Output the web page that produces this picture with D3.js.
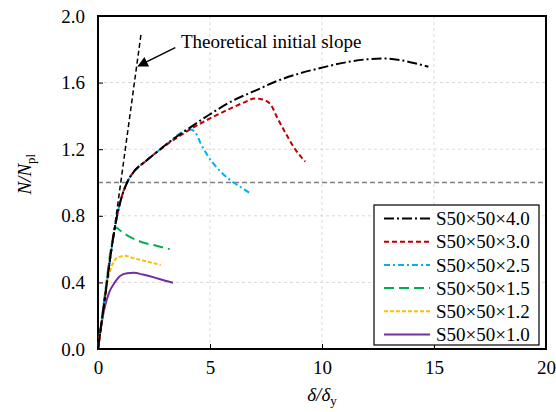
<!DOCTYPE html>
<meta charset='utf-8'>
<style>
    body { margin: 0; background: #fff; }
    svg text { font-family: "Liberation Serif", "Times New Roman", Times, "DejaVu Serif", serif; fill: #000; }
    .grid line { stroke: #d9d9d9; stroke-dasharray: 3,3; stroke-width: 1; }
    .axis path, .axis line { stroke: #000; }
</style>

<svg width="556" height="412"></svg>
<script src="https://d3js.org/d3.v7.min.js"></script>

<script>

// series labels and values (delta/delta_y, N/N_pl)
var seriesNames = ['S50×50×4.0', 'S50×50×3.0', 'S50×50×2.5', 'S50×50×1.5', 'S50×50×1.2', 'S50×50×1.0'];

var s40 = [[0,0],[0.3,0.3],[0.6,0.6],[0.85,0.8],[1.05,0.91],[1.3,1.0],[1.6,1.065],[2.1,1.125],[2.6,1.18],[3.2,1.245],
           [4,1.32],[5,1.41],[6,1.49],[7,1.55],[8,1.61],[9,1.655],[10,1.69],[11,1.72],[12,1.74],[12.8,1.745],
           [13.5,1.735],[14.2,1.715],[14.75,1.695]];
var s30 = [[0,0],[0.3,0.3],[0.6,0.6],[0.85,0.8],[1.05,0.91],[1.3,1.0],[1.6,1.065],[2.1,1.125],[2.6,1.18],[3.2,1.24],
           [4,1.31],[5,1.385],[6,1.45],[6.5,1.48],[7,1.505],[7.3,1.5],[7.7,1.47],[8,1.39],[8.4,1.29],[8.8,1.2],[9.25,1.125]];
var s25 = [[0,0],[0.3,0.3],[0.6,0.6],[0.85,0.8],[1.05,0.91],[1.3,1.0],[1.6,1.065],[2.1,1.125],[2.6,1.18],[3.2,1.245],
           [3.6,1.29],[4.1,1.32],[4.35,1.3],[4.6,1.23],[4.9,1.16],[5.3,1.09],[5.9,1.015],[6.4,0.97],[6.8,0.935]];
var s15 = [[0,0],[0.3,0.32],[0.6,0.62],[0.8,0.73],[1.0,0.71],[1.4,0.675],[2.0,0.64],[2.6,0.62],[3.2,0.6]];
var s12 = [[0,0],[0.2,0.2],[0.45,0.42],[0.65,0.51],[0.9,0.55],[1.2,0.56],[1.6,0.545],[2.2,0.525],[2.8,0.505]];
var s10 = [[0,0],[0.1,0.1],[0.3,0.25],[0.5,0.34],[0.75,0.4],[1.0,0.44],[1.3,0.455],[1.6,0.458],[2.0,0.447],
           [2.5,0.43],[3.0,0.41],[3.35,0.398]];

var slopeLine = [[0,0],[1.93,1.9]];
var refLevel = 1.0;

var xTicks = [0, 5, 10, 15, 20];
var yTicks = [0, 0.4, 0.8, 1.2, 1.6, 2.0];

var serif = '"Liberation Serif", "Times New Roman", Times, "DejaVu Serif", serif';

var svg = d3.select('svg'),
    margin = {top: 16, right: 10, bottom: 63, left: 98},
    width = +svg.attr('width') - margin.left - margin.right,
    height = +svg.attr('height') - margin.top - margin.bottom;

var g = svg.append('g').attr('transform', 'translate(' + margin.left + ',' + margin.top + ')');

var x = d3.scaleLinear().domain([0, 20]).range([0, width]);
var y = d3.scaleLinear().domain([0, 2]).range([height, 0]);

// grid
g.append('g').attr('class', 'grid')
  .selectAll('line').data(xTicks.slice(1, -1)).enter().append('line')
    .attr('x1', d => x(d)).attr('x2', d => x(d)).attr('y1', 0).attr('y2', height);
g.append('g').attr('class', 'grid')
  .selectAll('line').data(yTicks.slice(1, -1)).enter().append('line')
    .attr('x1', 0).attr('x2', width).attr('y1', d => y(d)).attr('y2', d => y(d));

// N/Npl = 1 reference line
g.append('line')
    .attr('x1', 0).attr('x2', width).attr('y1', y(refLevel)).attr('y2', y(refLevel))
    .attr('stroke', '#808080').attr('stroke-width', 1.5).attr('stroke-dasharray', '5,3');

// axes
var xAxis = g.append('g').attr('class', 'axis').attr('transform', 'translate(0,' + height + ')')
    .call(d3.axisBottom(x).tickValues(xTicks).tickSize(-5).tickPadding(12).tickFormat(d3.format('d')));
var yAxis = g.append('g').attr('class', 'axis')
    .call(d3.axisLeft(y).tickValues(yTicks).tickSize(-5).tickPadding(13).tickFormat(d3.format('.1f')));
[xAxis, yAxis].forEach(function(a) {
    a.select('.domain').remove();
    a.attr('font-family', serif).attr('font-size', 19);
});

// frame
g.append('rect').attr('width', width).attr('height', height)
    .attr('fill', 'none').attr('stroke', '#000').attr('stroke-width', 2);

var line = d3.line().x(d => x(d[0])).y(d => y(d[1])).curve(d3.curveMonotoneX);

var series = [
    {name: seriesNames[0], data: s40, color: '#000000', dash: '10,3,2,3'},
    {name: seriesNames[1], data: s30, color: '#C00000', dash: '5,3'},
    {name: seriesNames[2], data: s25, color: '#00B0F0', dash: '6,3,2,3'},
    {name: seriesNames[3], data: s15, color: '#00B050', dash: '10,5'},
    {name: seriesNames[4], data: s12, color: '#FFC000', dash: '4,2'},
    {name: seriesNames[5], data: s10, color: '#7030A0', dash: null}
];

// draw bottom-most first so the thick curves overlap like the original
series.slice().reverse().forEach(function(s) {
    g.append('path').datum(s.data)
        .attr('fill', 'none').attr('stroke', s.color).attr('stroke-width', 2)
        .attr('stroke-dasharray', s.dash)
        .attr('d', line);
});

// theoretical initial slope
g.append('path').datum(slopeLine)
    .attr('fill', 'none').attr('stroke', '#000').attr('stroke-width', 1.5)
    .attr('stroke-dasharray', '5,3')
    .attr('d', d3.line().x(d => x(d[0])).y(d => y(d[1])));

// annotation arrow
svg.append('defs').append('marker')
    .attr('id', 'arr').attr('viewBox', '0 0 10 10').attr('refX', 9).attr('refY', 5)
    .attr('markerWidth', 7).attr('markerHeight', 7).attr('orient', 'auto')
  .append('path').attr('d', 'M0,0L10,5L0,10z').attr('fill', '#000');

g.append('line')
    .attr('x1', x(3.45)).attr('y1', y(1.81))
    .attr('x2', x(1.8)).attr('y2', y(1.7))
    .attr('stroke', '#000').attr('stroke-width', 1.5).attr('marker-end', 'url(#arr)');

g.append('text')
    .attr('x', x(3.7)).attr('y', y(1.805))
    .style('font-size', '19px')
    .text('Theoretical initial slope');

// axis titles
var xt = svg.append('text')
    .attr('x', margin.left + width / 2).attr('y', 401)
    .attr('text-anchor', 'middle').style('font-size', '19px');
xt.append('tspan').style('font-style', 'italic').text('δ/δ');
xt.append('tspan').attr('dy', 4).style('font-size', '13px').text('y');

var yt = svg.append('text')
    .attr('transform', 'translate(31,' + (margin.top + y(1.05)) + ') rotate(-90)')
    .attr('text-anchor', 'middle').style('font-size', '19px');
yt.append('tspan').style('font-style', 'italic').text('N/N');
yt.append('tspan').attr('dy', 4).style('font-size', '13px').text('pl');

// legend
var lg = svg.append('g').attr('transform', 'translate(374,205)');
lg.append('rect').attr('width', 165).attr('height', 140)
    .attr('fill', '#fff').attr('stroke', '#000').attr('stroke-width', 1.2);
var items = lg.selectAll('g.item').data(series).enter().append('g')
    .attr('transform', (d, i) => 'translate(0,' + (13.5 + i * 23.2) + ')');
items.append('line')
    .attr('x1', 10).attr('x2', 56)
    .attr('stroke', d => d.color).attr('stroke-width', 2)
    .attr('stroke-dasharray', d => d.dash);
items.append('text')
    .attr('x', 62).attr('dy', '0.35em')
    .style('font-size', '19px')
    .text(d => d.name);

</script>
